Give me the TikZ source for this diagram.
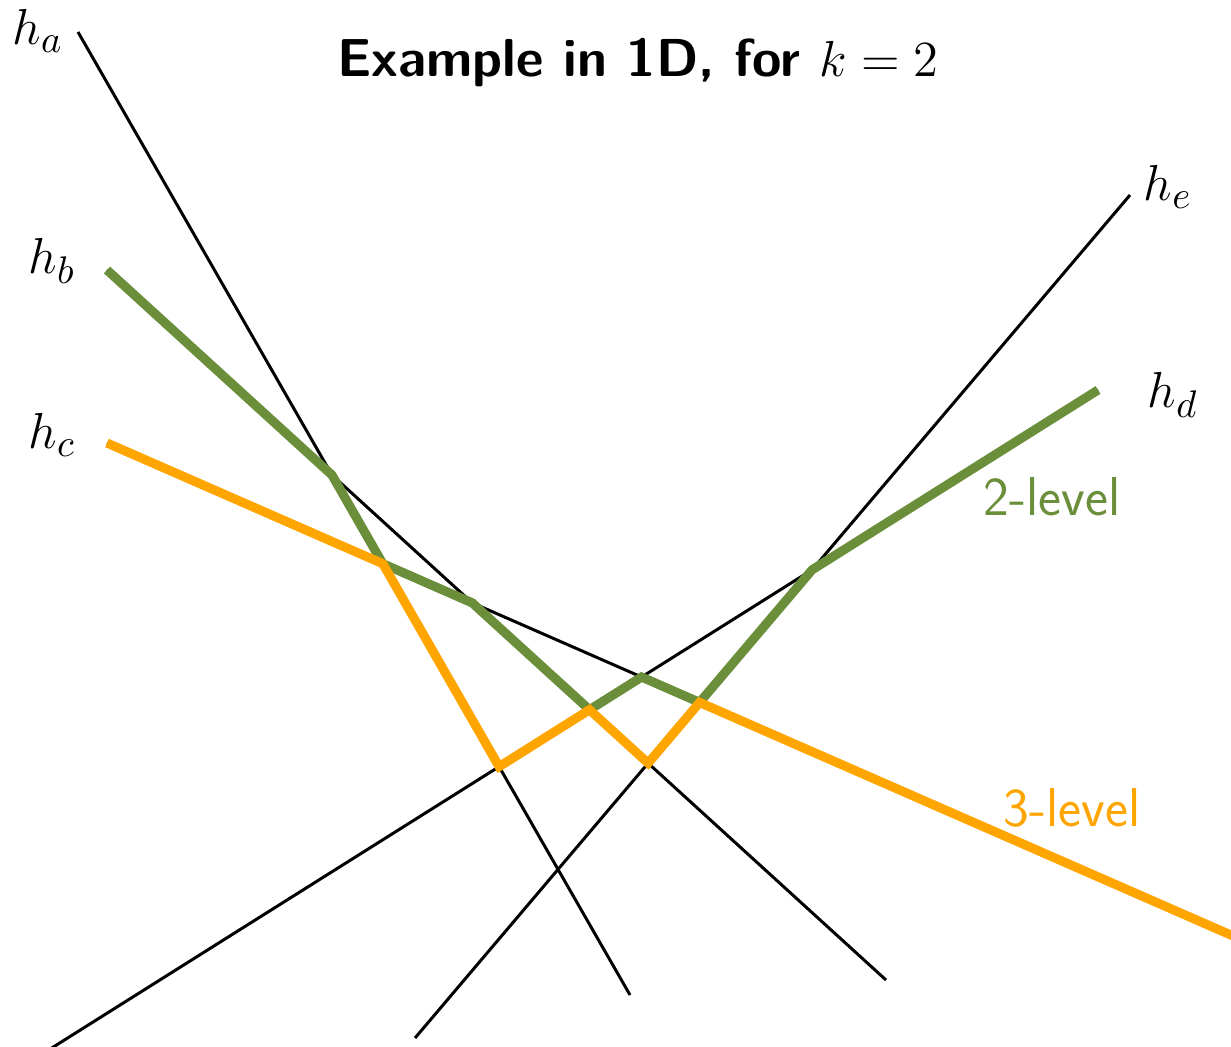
\documentclass[tikz,border=0pt]{standalone}
\usepackage{amsmath,amssymb}
\usepackage{xcolor}
\usetikzlibrary{intersections, calc}
\definecolor{cG}{RGB}{107,142,59}
\definecolor{cO}{RGB}{255,165,0}

\begin{document}
\begin{tikzpicture}[font=\fontsize{15}{18}\selectfont,
                    plane/.style={draw=black, line width=0.85pt},
                    level/.style={line width=2.6pt}]
    \useasboundingbox (0,0) rectangle (12.31,-10.46);
    \clip (0,0) rectangle (12.31,-10.46);

    % Line End Points
    \coordinate (A1) at (0.78,-0.32);  \coordinate (A2) at (6.30,-9.95);
    \coordinate (B1) at (1.07,-2.70);  \coordinate (B2) at (8.86,-9.80);
    \coordinate (C1) at (1.07,-4.43);  \coordinate (C2) at (12.40,-9.39);
    \coordinate (D1) at (10.98,-3.90); \coordinate (D2) at (0.39,-10.56);
    \coordinate (E1) at (11.30,-1.95); \coordinate (E2) at (4.15,-10.38);

    % Lines
    \draw[plane, name path=ha] (A1) -- (A2);
    \draw[plane, name path=hb] (B1) -- (B2);
    \draw[plane, name path=hc] (C1) -- (C2);
    \draw[plane, name path=hd] (D1) -- (D2);
    \draw[plane, name path=he] (E1) -- (E2);

    % Crossings
    \path[name intersections={of=ha and hb, by=ab}];
    \path[name intersections={of=ha and hc, by=ac}];
    \path[name intersections={of=ha and hd, by=ad}];
    \path[name intersections={of=hb and hc, by=bc}];
    \path[name intersections={of=hb and hd, by=bd}];
    \path[name intersections={of=hb and he, by=be}];
    \path[name intersections={of=hc and hd, by=cd}];
    \path[name intersections={of=hc and he, by=ce}];
    \path[name intersections={of=hd and he, by=de}];

    % Levels
    \draw[level, cG] (B1) -- (ab) -- (ac) -- (bc) -- (bd) -- (cd) -- (ce) -- (de) -- (D1);
    \draw[level, cO] (C1) -- (ac) -- (ad) -- (bd) -- (be) -- (ce) -- (C2);

    % Labels
    \node (la) at (0.38,-0.31) {$h_a$};
    \node (lb) at (0.52,-2.61) {$h_b$};
    \node (lc) at (0.52,-4.35) {$h_c$};
    \node (ld) at (11.73,-3.95) {$h_d$};
    \node (le) at (11.68,-1.87) {$h_e$};
    \node (title) at (6.38,-0.63) {\fontsize{15.2}{18}\selectfont\sffamily\bfseries Example in 1D, for $k=2$};
    \node[cG, font=\fontsize{15.6}{18}\selectfont\sffamily] (two) at (10.52,-4.97) {2-level};
    \node[cO, font=\fontsize{15.6}{18}\selectfont\sffamily] (three) at (10.72,-8.08) {3-level};
\end{tikzpicture}
\end{document}
